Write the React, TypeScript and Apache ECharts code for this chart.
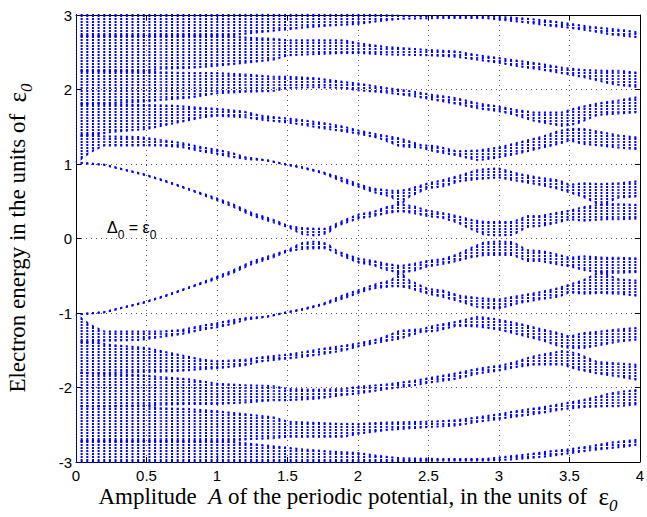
import React, { useEffect, useRef } from "react";
import * as echarts from "echarts";

// Axis ticks
const X_TICKS = [0, 0.5, 1, 1.5, 2, 2.5, 3, 3.5, 4];
const Y_TICKS = [-3, -2, -1, 0, 1, 2, 3];
// spacing of the computed amplitude values (one column of levels per value)
const COLUMN_STEP = 0.04;

// Allowed-energy bands for E > 0: [A, lower edge, upper edge].
// The spectrum is symmetric about E = 0, the negative half is the mirror image.
const band1 = [
  [0, 1.02, 1.02], [0.2, 0.99, 0.99], [0.35, 0.92, 0.92], [0.5, 0.85, 0.85],
  [0.65, 0.76, 0.76], [0.8, 0.66, 0.66], [0.95, 0.55, 0.57], [1.1, 0.44, 0.47],
  [1.25, 0.31, 0.34], [1.4, 0.22, 0.25], [1.5, 0.16, 0.17], [1.6, 0.06, 0.14],
  [1.7, 0.04, 0.13], [1.78, 0.07, 0.13], [1.85, 0.17, 0.2], [2.0, 0.27, 0.32],
  [2.1, 0.3, 0.35], [2.2, 0.34, 0.42], [2.3, 0.37, 0.46], [2.4, 0.34, 0.43],
  [2.5, 0.3, 0.37], [2.6, 0.28, 0.34], [2.7, 0.22, 0.3], [2.8, 0.13, 0.25],
  [2.9, 0.05, 0.22], [3.0, 0.04, 0.22], [3.1, 0.05, 0.22], [3.2, 0.16, 0.3],
  [3.3, 0.17, 0.3], [3.4, 0.21, 0.34], [3.5, 0.26, 0.37], [3.6, 0.24, 0.42],
  [3.75, 0.26, 0.46], [3.85, 0.26, 0.46], [4.0, 0.27, 0.45],
];
const band2 = [
  [0, 1.02, 1.38], [0.1, 1.16, 1.39], [0.2, 1.25, 1.37], [0.45, 1.25, 1.36],
  [0.6, 1.25, 1.32], [0.75, 1.23, 1.28], [0.9, 1.17, 1.22], [1.0, 1.14, 1.19],
  [1.1, 1.1, 1.15], [1.2, 1.07, 1.09], [1.35, 1.05, 1.05], [1.5, 0.99, 0.99],
  [1.6, 0.95, 0.96], [1.75, 0.88, 0.89], [1.9, 0.76, 0.8], [2.0, 0.7, 0.73],
  [2.1, 0.63, 0.67], [2.24, 0.56, 0.64], [2.3, 0.45, 0.64], [2.36, 0.56, 0.66],
  [2.5, 0.68, 0.74], [2.6, 0.7, 0.78], [2.72, 0.77, 0.84], [2.85, 0.8, 0.92],
  [3.0, 0.82, 0.94], [3.15, 0.77, 0.86], [3.3, 0.72, 0.81], [3.42, 0.67, 0.78],
  [3.5, 0.62, 0.72], [3.6, 0.56, 0.74], [3.72, 0.45, 0.73], [3.85, 0.55, 0.74],
  [4.0, 0.57, 0.77],
];
const band3 = [
  [0, 1.38, 1.8], [0.15, 1.4, 1.81], [0.25, 1.43, 1.8], [0.5, 1.47, 1.79],
  [0.7, 1.55, 1.78], [0.9, 1.63, 1.75], [1.0, 1.65, 1.74], [1.2, 1.63, 1.7],
  [1.3, 1.6, 1.65], [1.45, 1.57, 1.62], [1.6, 1.53, 1.59], [1.75, 1.48, 1.55],
  [1.9, 1.44, 1.5], [2.0, 1.41, 1.45], [2.15, 1.35, 1.39], [2.3, 1.24, 1.34],
  [2.45, 1.22, 1.25], [2.55, 1.17, 1.24], [2.7, 1.12, 1.17], [2.85, 1.05, 1.18],
  [3.0, 1.09, 1.22], [3.15, 1.15, 1.29], [3.3, 1.22, 1.36], [3.42, 1.27, 1.44],
  [3.5, 1.32, 1.47], [3.6, 1.27, 1.47], [3.72, 1.25, 1.43], [3.85, 1.22, 1.38],
  [4.0, 1.2, 1.35],
];
const band4 = [
  [0, 1.8, 2.25], [0.25, 1.82, 2.25], [0.5, 1.84, 2.24], [0.6, 1.86, 2.23],
  [0.8, 1.89, 2.22], [1.0, 1.95, 2.22], [1.2, 1.97, 2.2], [1.4, 1.98, 2.17],
  [1.5, 2.02, 2.17], [1.7, 2.03, 2.15], [1.9, 2.02, 2.1], [2.0, 1.99, 2.08],
  [2.2, 1.96, 2.02], [2.4, 1.91, 1.97], [2.55, 1.86, 1.92], [2.7, 1.81, 1.88],
  [2.85, 1.75, 1.81], [3.0, 1.71, 1.77], [3.1, 1.67, 1.73], [3.25, 1.58, 1.69],
  [3.45, 1.51, 1.69], [3.55, 1.54, 1.75], [3.7, 1.66, 1.81], [3.85, 1.68, 1.85],
  [4.0, 1.7, 1.9],
];
const band5 = [
  [0, 2.25, 2.72], [0.5, 2.25, 2.72], [0.6, 2.28, 2.72], [0.8, 2.29, 2.72],
  [1.0, 2.32, 2.72], [1.1, 2.34, 2.71], [1.25, 2.37, 2.69], [1.4, 2.4, 2.68],
  [1.5, 2.46, 2.66], [1.9, 2.49, 2.66], [2.0, 2.49, 2.62], [2.2, 2.47, 2.57],
  [2.5, 2.46, 2.53], [2.7, 2.44, 2.51], [2.85, 2.4, 2.46], [3.0, 2.36, 2.42],
  [3.15, 2.31, 2.38], [3.3, 2.27, 2.34], [3.45, 2.22, 2.29], [3.6, 2.17, 2.26],
  [3.75, 2.1, 2.25], [3.85, 2.06, 2.25], [4.0, 2.03, 2.22],
];
const band6 = [
  [0, 2.72, 3.0], [0.5, 2.72, 3.0], [1.1, 2.73, 3.0], [1.25, 2.76, 3.0],
  [1.45, 2.8, 3.0], [1.6, 2.83, 3.0], [1.8, 2.86, 3.0], [2.0, 2.88, 3.0],
  [2.15, 2.92, 3.0], [2.3, 2.95, 2.99], [2.6, 2.96, 2.98], [2.9, 2.96, 2.98],
  [3.05, 2.93, 2.97], [3.2, 2.9, 2.95], [3.35, 2.86, 2.92], [3.5, 2.83, 2.88],
  [3.65, 2.79, 2.84], [3.8, 2.74, 2.81], [3.9, 2.72, 2.79], [4.0, 2.7, 2.76],
];
const BANDS = [band1, band2, band3, band4, band5, band6];

// one quadrilateral segment of a band between two read positions
function buildSegments(): number[][] {
  const out: number[][] = [];
  for (const b of BANDS) {
    for (let i = 0; i < b.length - 1; i++) {
      const [a1, l1, h1] = b[i];
      const [a2, l2, h2] = b[i + 1];
      out.push([a1, l1, h1, a2, l2, h2]);
      out.push([a1, -h1, -l1, a2, -h2, -l2]);
    }
  }
  return out;
}

type Tiles = { key: string; fill: any; stroke: any };
let tileCache: Tiles | null = null;
function getTiles(x0: number, pitch: number): Tiles {
  const w = Math.round(pitch * 20);
  const key = x0.toFixed(2) + "_" + w;
  if (tileCache && tileCache.key === key) return tileCache;
  const mk = (h: number, dotH: number) => {
    const c = document.createElement("canvas");
    c.width = w;
    c.height = h;
    const ctx = c.getContext("2d")!;
    ctx.fillStyle = "#0000ff";
    for (let i = 0; i < 20; i++) {
      const cx = (((x0 + (i * w) / 20) % w) + w) % w;
      for (const off of [-w, 0, w]) ctx.fillRect(cx + off - 1, 0, 2, dotH);
    }
    return { image: c.toDataURL(), repeat: "repeat", imageWidth: w, imageHeight: h };
  };
  tileCache = { key, fill: mk(3, 2), stroke: mk(4, 4) };
  return tileCache;
}

const SERIF = '"Liberation Serif", "Times New Roman", serif';
const SANS = '"Liberation Sans", Arial, Helvetica, sans-serif';

export default function App() {
  const ref = useRef<HTMLDivElement>(null);
  useEffect(() => {
    document.body.style.margin = "0";
    const chart = echarts.init(ref.current!, undefined, { renderer: "svg" });
    const axisCommon = {
      type: "value" as const,
      axisLine: { show: true, onZero: false, lineStyle: { color: "#000", width: 1 } },
      axisTick: { show: true, inside: true, length: 5, lineStyle: { color: "#000" } },
    };
    const titleRich = {
      n: { fontFamily: SERIF, fontSize: 23, lineHeight: 26, fill: "#000" },
      i: { fontFamily: SERIF, fontSize: 23, fontStyle: "italic", lineHeight: 26, fill: "#000" },
      e: { fontFamily: SERIF, fontSize: 25, lineHeight: 26, fill: "#000" },
      s: { fontFamily: SERIF, fontSize: 17, fontStyle: "italic", lineHeight: 17, verticalAlign: "bottom", padding: [0, 0, -5, 0], fill: "#000" },
    };
    const option: any = {
      animation: false,
      backgroundColor: "#fff",
      grid: { left: 76, right: 6, top: 15, bottom: 55, show: false },
      xAxis: [
        {
          ...axisCommon,
          min: X_TICKS[0],
          max: X_TICKS[X_TICKS.length - 1],
          interval: X_TICKS[1] - X_TICKS[0],
          position: "bottom",
          axisLabel: {
            color: "#000", fontFamily: SANS, fontSize: 15, margin: 6,
            formatter: (v: number) => String(v),
          },
          splitLine: { show: true, lineStyle: { color: "#555", width: 1, type: [1, 4] } },
        },
        {
          ...axisCommon,
          min: X_TICKS[0],
          max: X_TICKS[X_TICKS.length - 1],
          interval: X_TICKS[1] - X_TICKS[0],
          position: "top",
          axisLabel: { show: false },
          splitLine: { show: false },
        },
      ],
      yAxis: [
        {
          ...axisCommon,
          min: Y_TICKS[0],
          max: Y_TICKS[Y_TICKS.length - 1],
          interval: Y_TICKS[1] - Y_TICKS[0],
          position: "left",
          axisLabel: {
            color: "#000", fontFamily: SANS, fontSize: 15, margin: 4,
            formatter: (v: number) => String(v),
          },
          splitLine: { show: true, lineStyle: { color: "#555", width: 1, type: [1, 4] } },
        },
        {
          ...axisCommon,
          min: Y_TICKS[0],
          max: Y_TICKS[Y_TICKS.length - 1],
          interval: Y_TICKS[1] - Y_TICKS[0],
          position: "right",
          axisLabel: { show: false },
          splitLine: { show: false },
        },
      ],
      series: [
        {
          type: "custom",
          xAxisIndex: 0,
          yAxisIndex: 0,
          encode: { x: [0, 3], y: [1, 2, 4, 5] },
          data: buildSegments(),
          renderItem: (params: any, api: any) => {
            const p0 = api.coord([0, 0]);
            const p1 = api.coord([COLUMN_STEP * 20, 0]);
            const tiles = getTiles(p0[0], (p1[0] - p0[0]) / 20);
            const a1 = api.value(0), l1 = api.value(1), h1 = api.value(2);
            const a2 = api.value(3), l2 = api.value(4), h2 = api.value(5);
            const ph1 = api.coord([a1, h1]);
            const ph2 = api.coord([a2, h2]);
            const pl1 = api.coord([a1, l1]);
            const pl2 = api.coord([a2, l2]);
            return {
              type: "group",
              children: [
                {
                  type: "polygon",
                  shape: { points: [ph1, ph2, pl2, pl1] },
                  style: { fill: tiles.fill, stroke: "none" },
                },
                {
                  type: "polyline",
                  shape: { points: [ph1, ph2] },
                  style: { fill: "none", stroke: tiles.stroke, lineWidth: 2.2 },
                },
                {
                  type: "polyline",
                  shape: { points: [pl1, pl2] },
                  style: { fill: "none", stroke: tiles.stroke, lineWidth: 2.2 },
                },
              ],
            };
          },
        },
      ],
      graphic: [
        {
          type: "text",
          x: 358,
          y: 496,
          style: {
            text: "{n|Amplitude  }{i|A}{n| of the periodic potential, in the units of  }{e|ε}{s|0}",
            align: "center", verticalAlign: "middle",
            textAlign: "center", textVerticalAlign: "middle",
            rich: titleRich,
          },
        },
        {
          type: "text",
          x: 17,
          y: 238,
          rotation: Math.PI / 2,
          style: {
            text: "{n|Electron energy in the units of  }{e|ε}{s|0}",
            align: "center", verticalAlign: "middle",
            textAlign: "center", textVerticalAlign: "middle",
            rich: titleRich,
          },
        },
        {
          type: "text",
          x: 107,
          y: 227,
          style: {
            text: "{n|Δ}{s|0}{n| = ε}{s|0}",
            align: "left", verticalAlign: "middle",
            textAlign: "left", textVerticalAlign: "middle",
            rich: {
              n: { fontFamily: SANS, fontSize: 16, lineHeight: 18, fill: "#000" },
              s: { fontFamily: SANS, fontSize: 12, lineHeight: 12, verticalAlign: "bottom", padding: [0, 0, -5, 0], fill: "#000" },
            },
          },
        },
      ],
    };
    chart.setOption(option);
    return () => chart.dispose();
  }, []);
  return (
    <div
      ref={ref}
      style={{ position: "absolute", left: 0, top: 0, width: 647, height: 517, background: "#fff" }}
    />
  );
}
